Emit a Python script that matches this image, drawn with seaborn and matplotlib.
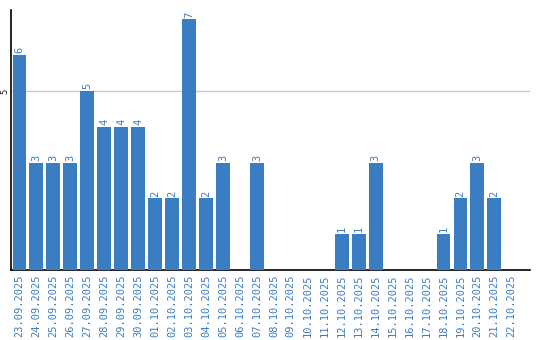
import matplotlib
matplotlib.use("Agg")
import matplotlib.pyplot as plt
import seaborn as sns
import pandas as pd

dates = ["23.09.2025", "24.09.2025", "25.09.2025", "26.09.2025", "27.09.2025",
         "28.09.2025", "29.09.2025", "30.09.2025", "01.10.2025", "02.10.2025",
         "03.10.2025", "04.10.2025", "05.10.2025", "06.10.2025", "07.10.2025",
         "08.10.2025", "09.10.2025", "10.10.2025", "11.10.2025", "12.10.2025",
         "13.10.2025", "14.10.2025", "15.10.2025", "16.10.2025", "17.10.2025",
         "18.10.2025", "19.10.2025", "20.10.2025", "21.10.2025", "22.10.2025"]
values = [6, 3, 3, 3, 5, 4, 4, 4, 2, 2, 7, 2, 3, 0, 3,
          0, 0, 0, 0, 1, 1, 3, 0, 0, 0, 1, 2, 3, 2, 0]

sns.set_style("white")
df = pd.DataFrame({"date": dates, "value": values})

fig = plt.figure(figsize=(5.4, 3.4), dpi=100)
ax = fig.add_axes([11/540, 70/340, 519/540, 260/340])
blue = "#3a7dc2"
sns.barplot(data=df, x="date", y="value", color=blue, width=0.82,
            saturation=1, ax=ax, zorder=3, linewidth=0)
ax.set_xlim(-0.5, 30.1)
ax.set_ylim(0, 7.26)
ax.set_yticks([5])
ax.set_yticklabels(["5"], rotation=90, va="center", fontsize=6.5,
                   family="DejaVu Sans Mono")
ax.axhline(5, color="#c8c8c8", lw=1, zorder=1)
ax.tick_params(axis="y", length=0, pad=1)
ax.tick_params(axis="x", length=0, pad=3)
ax.set_xticks(range(len(dates)))
ax.set_xticklabels(dates, rotation=90, fontsize=7.5, color=blue,
                   family="DejaVu Sans Mono")
ax.set_xlabel("")
ax.set_ylabel("")
for s in ["top", "right"]:
    ax.spines[s].set_visible(False)
for s in ["left", "bottom"]:
    ax.spines[s].set_color("black")
    ax.spines[s].set_linewidth(1.2)
for i, v in enumerate(values):
    if v > 0:
        ax.text(i, v + 0.05, str(v), rotation=90, ha="center", va="bottom",
                fontsize=7.5, color=blue, family="DejaVu Sans Mono")
fig.savefig("out.png", dpi=100)
